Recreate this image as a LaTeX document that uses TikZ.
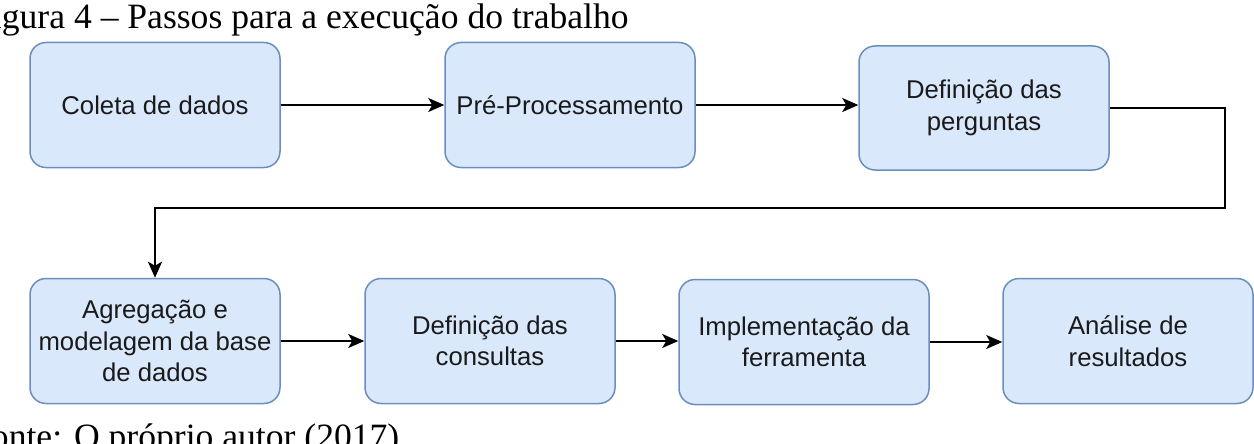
\documentclass[tikz,border=0pt]{standalone}
\usepackage{fontspec}
\setmainfont{Liberation Serif}
\newfontfamily\boxfont{Liberation Sans}
\usetikzlibrary{arrows.meta}
\definecolor{boxfill}{HTML}{DAE8FC}
\definecolor{boxline}{HTML}{6C8EBF}
\definecolor{boxtext}{HTML}{1A1A1A}
\tikzset{
  stepbox/.style={draw=boxline, fill=boxfill, line width=1.5pt, rounded corners=16pt,
    minimum width=250pt, minimum height=125pt, align=center, inner sep=0pt,
    text=boxtext, font=\boxfont\fontsize{25.7}{31.5}\selectfont},
  flow/.style={draw=black, line width=1.8pt, -{Stealth[length=16pt,width=14pt,inset=4pt]}},
  loopline/.style={draw=black, line width=2.4pt, -{Stealth[length=16pt,width=14pt,inset=4pt]}},
  captxt/.style={inner sep=0pt, font=\fontsize{35.6}{40}\selectfont}
}
\begin{document}
\begin{tikzpicture}[x=1pt,y=-1pt]
\useasboundingbox (0,0) rectangle (1254,444);
\clip (0,0) rectangle (1254,444);
\fill[white] (0,0) rectangle (1254,444);
\node[captxt, anchor=base west] (title) at (-28,29) {Figura 4 – Passos para a execução do trabalho};
\node[captxt, anchor=base west] (source) at (-29,448) {Fonte: O próprio autor (2017)};

\node[stepbox] (b1) at (155,105) {Coleta de dados};
\node[stepbox] (b2) at (570,105) {Pré-Processamento};
\node[stepbox, minimum height=124pt] (b3) at (984,108) {Definição das\\perguntas};
\node[stepbox] (b4) at (155,341) {Agregação e\\modelagem da base\\de dados};
\node[stepbox] (b5) at (490,341) {Definição das\\consultas};
\node[stepbox] (b6) at (804,342) {Implementação da\\ferramenta};
\node[stepbox] (b7) at (1128,341) {Análise de\\resultados};

\coordinate (turn) at (1225,208);

\draw[flow] (b1.east) -- (b2.west);
\draw[flow] (b2.east) -- (b2.east -| b3.west);
\draw[loopline] (b3.east) -| (turn) -| (b4.north);
\draw[flow] (b4.east) -- (b4.east -| b5.west);
\draw[flow] (b5.east) -- (b5.east -| b6.west);
\draw[flow] (b6.east) -- (b6.east -| b7.west);
\end{tikzpicture}
\end{document}
